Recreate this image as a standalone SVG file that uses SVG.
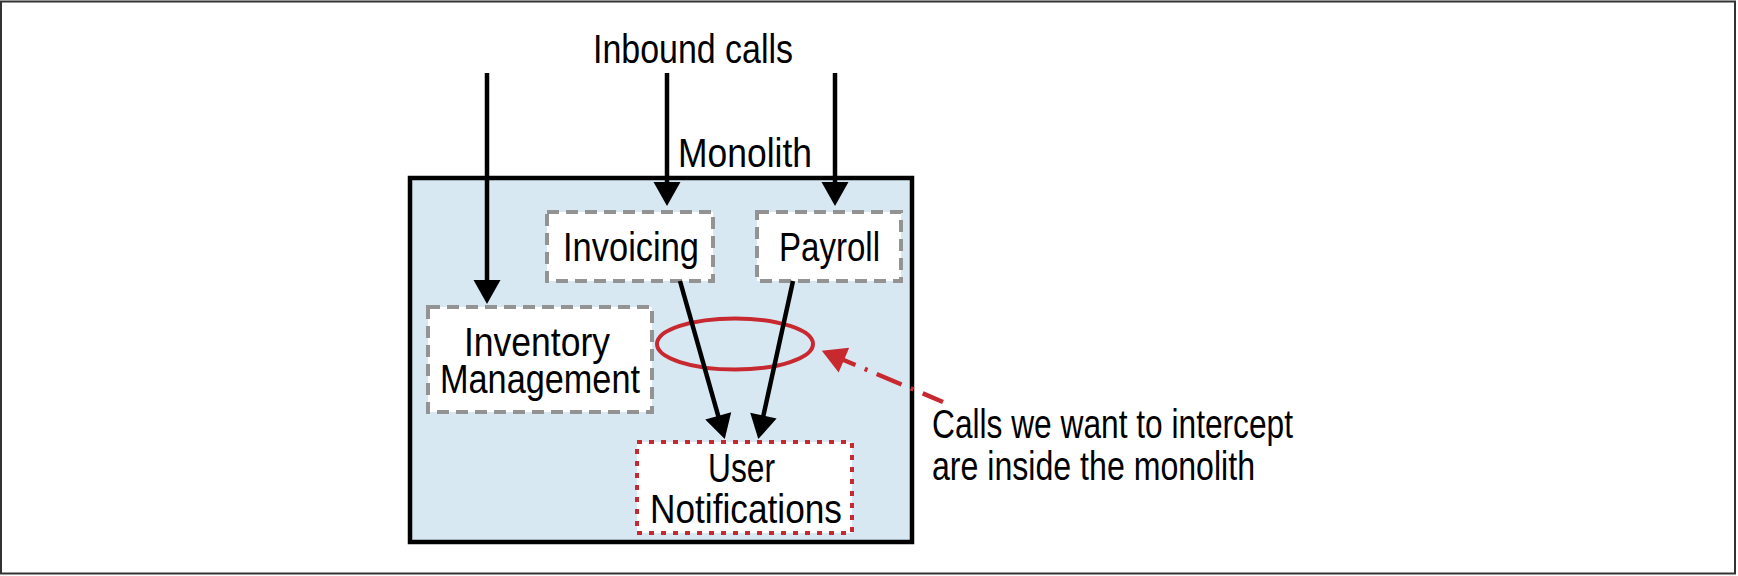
<svg xmlns="http://www.w3.org/2000/svg" width="1738" height="576" viewBox="0 0 1738 576">
<style>
text{font-family:"Liberation Sans",Arial,sans-serif;font-size:40px;fill:#000}
.box{fill:#fff;stroke:#939393;stroke-width:4;stroke-dasharray:12 7}
.red{fill:#fff;stroke:#c8282f;stroke-width:4;stroke-dasharray:5 7}
.conn{stroke:#000;stroke-width:4.5;fill:none}
</style>
<defs>
<marker id="ah" markerUnits="userSpaceOnUse" markerWidth="25" markerHeight="27" refX="1" refY="13.5" orient="auto" overflow="visible"><path d="M0,0 L24,13.5 L0,27 z" fill="#000"/></marker>
<marker id="ahr" markerUnits="userSpaceOnUse" markerWidth="25" markerHeight="27" refX="1" refY="13.5" orient="auto" overflow="visible"><path d="M0,0 L24,13.5 L0,27 z" fill="#c8282f"/></marker>
</defs>
<rect x="1" y="1.5" width="1734" height="572" fill="#fff" stroke="#333" stroke-width="2"/>
<g id="monolith">
<rect x="410" y="178" width="502" height="364" fill="#d8e8f3" stroke="#000" stroke-width="4.5"/>
<text x="678" y="167" textLength="134" lengthAdjust="spacingAndGlyphs">Monolith</text>
</g>
<g id="inbound-label"><text x="593" y="63" textLength="200" lengthAdjust="spacingAndGlyphs">Inbound calls</text></g>
<g id="invoicing">
<rect class="box" x="547" y="212" width="166" height="69"/>
<text x="563" y="261" textLength="136" lengthAdjust="spacingAndGlyphs">Invoicing</text>
</g>
<g id="payroll">
<rect class="box" x="757" y="212" width="144" height="69"/>
<text x="779" y="261" textLength="101" lengthAdjust="spacingAndGlyphs">Payroll</text>
</g>
<g id="inventory">
<rect class="box" x="428" y="307" width="224" height="105"/>
<text x="464" y="356" textLength="146" lengthAdjust="spacingAndGlyphs">Inventory</text>
<text x="440" y="393" textLength="200" lengthAdjust="spacingAndGlyphs">Management</text>
</g>
<g id="notifications">
<rect class="red" x="637" y="442" width="215" height="91"/>
<text x="708" y="482" textLength="67" lengthAdjust="spacingAndGlyphs">User</text>
<text x="650" y="523" textLength="192" lengthAdjust="spacingAndGlyphs">Notifications</text>
</g>
<g id="callout">
<ellipse cx="735" cy="344" rx="78" ry="25.5" fill="none" stroke="#c8282f" stroke-width="4"/>
<text x="932" y="438" textLength="361" lengthAdjust="spacingAndGlyphs">Calls we want to intercept</text>
<text x="932" y="480" textLength="323" lengthAdjust="spacingAndGlyphs">are inside the monolith</text>
</g>
<g id="connectors">
<path class="conn" d="M487,73 L487,281" marker-end="url(#ah)"/>
<path class="conn" d="M667,73 L667,183" marker-end="url(#ah)"/>
<path class="conn" d="M835,73 L835,183" marker-end="url(#ah)"/>
<path class="conn" d="M680,281 L718.5,416.9" marker-end="url(#ah)"/>
<path class="conn" d="M793,281 L763.2,416.6" marker-end="url(#ah)"/>
<path d="M943,402 L843,359.7" fill="none" stroke="#c8282f" stroke-width="4.5" stroke-dasharray="27 10 3 10" stroke-dashoffset="5" marker-end="url(#ahr)"/>
</g>
</svg>
